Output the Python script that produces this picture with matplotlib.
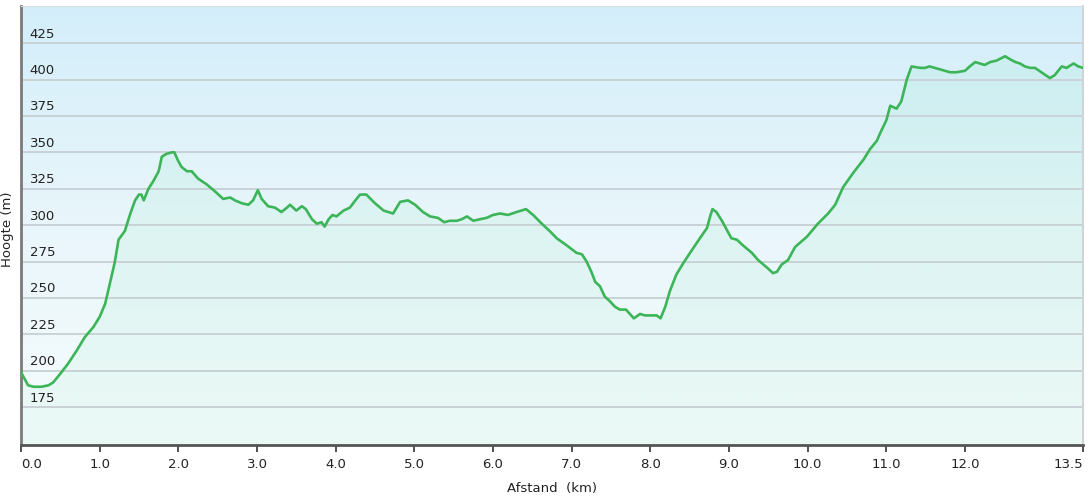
import numpy as np
import matplotlib
matplotlib.use("Agg")
import matplotlib.pyplot as plt
from matplotlib.colors import LinearSegmentedColormap

# distance (km) and elevation (m)
afstand = [0.00, 0.09, 0.16, 0.26, 0.35, 0.41, 0.50, 0.60, 0.71, 0.81, 0.92,
           1.00, 1.07, 1.13, 1.19, 1.24, 1.32, 1.39, 1.45, 1.50, 1.53, 1.56,
           1.62, 1.68, 1.75, 1.79, 1.85, 1.92, 1.95, 1.99, 2.04, 2.11, 2.17,
           2.25, 2.36, 2.47, 2.57, 2.66, 2.72, 2.81, 2.89, 2.95, 3.01, 3.06,
           3.14, 3.23, 3.31, 3.38, 3.42, 3.50, 3.57, 3.62, 3.70, 3.76, 3.82,
           3.86, 3.91, 3.96, 4.01, 4.10, 4.18, 4.25, 4.31, 4.39, 4.50, 4.61,
           4.67, 4.73, 4.82, 4.92, 5.01, 5.11, 5.20, 5.30, 5.38, 5.45, 5.54,
           5.60, 5.67, 5.75, 5.83, 5.92, 6.00, 6.09, 6.19, 6.30, 6.42, 6.51,
           6.62, 6.72, 6.81, 6.94, 7.06, 7.13, 7.19, 7.25, 7.30, 7.36, 7.42,
           7.48, 7.55, 7.61, 7.69, 7.74, 7.79, 7.87, 7.93, 8.02, 8.08, 8.13,
           8.19, 8.25, 8.33, 8.42, 8.53, 8.63, 8.72, 8.76, 8.79, 8.84, 8.91,
           8.99, 9.03, 9.10, 9.18, 9.29, 9.37, 9.48, 9.56, 9.61, 9.67, 9.75,
           9.84, 9.99, 10.13, 10.26, 10.35, 10.45, 10.58, 10.71, 10.79, 10.88,
           10.92, 11.00, 11.05, 11.13, 11.19, 11.26, 11.32, 11.43, 11.49,
           11.55, 11.68, 11.81, 11.89, 12.00, 12.06, 12.13, 12.19, 12.25,
           12.32, 12.40, 12.51, 12.57, 12.64, 12.70, 12.76, 12.83, 12.89,
           12.97, 13.08, 13.14, 13.23, 13.29, 13.38, 13.44, 13.50]
hoogte = [199, 190, 189, 189, 190, 192, 198, 205, 214, 223, 230,
          237, 246, 260, 274, 290, 296, 308, 317, 321, 321, 317,
          325, 330, 337, 347, 349, 350, 350, 345, 340, 337, 337,
          332, 328, 323, 318, 319, 317, 315, 314, 317, 324, 318,
          313, 312, 309, 312, 314, 310, 313, 311, 304, 301, 302,
          299, 304, 307, 306, 310, 312, 317, 321, 321, 315, 310,
          309, 308, 316, 317, 314, 309, 306, 305, 302, 303, 303,
          304, 306, 303, 304, 305, 307, 308, 307, 309, 311, 307,
          301, 296, 291, 286, 281, 280, 275, 268, 261, 258, 251,
          248, 244, 242, 242, 239, 236, 239, 238, 238, 238, 236,
          244, 255, 266, 274, 283, 291, 298, 306, 311, 309, 303,
          295, 291, 290, 286, 281, 276, 271, 267, 268, 273, 276,
          285, 292, 301, 308, 314, 326, 336, 345, 352, 358,
          363, 372, 382, 380, 385, 400, 409, 408, 408,
          409, 407, 405, 405, 406, 409, 412, 411, 410,
          412, 413, 416, 414, 412, 411, 409, 408, 408,
          405, 401, 403, 409, 408, 411, 409, 408]

x_ticks = [0, 1, 2, 3, 4, 5, 6, 7, 8, 9, 10, 11, 12, 13.5]
x_labels = ["0.0", "1.0", "2.0", "3.0", "4.0", "5.0", "6.0", "7.0", "8.0",
            "9.0", "10.0", "11.0", "12.0", "13.5"]
y_grid = [175, 200, 225, 250, 275, 300, 325, 350, 375, 400, 425]

fig = plt.figure(figsize=(10.89, 4.98), dpi=100)
ax = fig.add_axes([21 / 1089, 53 / 498, 1062 / 1089, 439 / 498])
xmin, xmax, ymin, ymax = 0, 13.5, 149, 450.5
ax.set_xlim(xmin, xmax)
ax.set_ylim(ymin, ymax)

# background gradient: light blue at top to almost white at the bottom
bg = LinearSegmentedColormap.from_list("bg", ["#f6fcfd", "#e9f6fb", "#d3eefa"])
grad = np.linspace(0, 1, 256).reshape(-1, 1)
ax.imshow(grad, cmap=bg, aspect="auto", origin="lower",
          extent=[xmin, xmax, ymin, ymax], zorder=0)

# pale green gradient under the curve
fillmap = LinearSegmentedColormap.from_list(
    "fill", [(0.40, 0.88, 0.60, 0.07), (0.40, 0.88, 0.68, 0.11)])
poly = ax.fill_between(afstand, hoogte, ymin, facecolor="none", edgecolor="none")
img = ax.imshow(grad, cmap=fillmap, aspect="auto", origin="lower",
                extent=[xmin, xmax, ymin, ymax], zorder=1)
img.set_clip_path(poly.get_paths()[0], transform=ax.transData)

# grid lines with the labels sitting above them
for v in y_grid:
    ax.axhline(v, color="#c9d2d6", lw=1.4, zorder=2)
    ax.text(0.11, v + 6.2, str(v), fontsize=9.5, color="#222222",
            ha="left", va="center", zorder=3)

ax.plot(afstand, hoogte, color="#3cb558", lw=1.9, zorder=4,
        solid_joinstyle="round")

ax.set_yticks([])
ax.set_xticks(x_ticks)
ax.set_xticklabels(x_labels, fontsize=9.5, color="#222222")
labels = ax.get_xticklabels()
labels[0].set_ha("left")
labels[-1].set_ha("right")
ax.tick_params(axis="x", direction="out", length=5, width=1.2,
               color="#333333", pad=4)

ax.spines["left"].set_color("#7a7a7a")
ax.spines["left"].set_linewidth(2)
ax.spines["bottom"].set_color("#555555")
ax.spines["bottom"].set_linewidth(2)
ax.spines["top"].set_color("#d8dcde")
ax.spines["right"].set_color("#d0d4d6")
ax.spines["right"].set_linewidth(1.5)

ax.set_xlabel("Afstand  (km)", fontsize=9.5, color="#222222", labelpad=8)
fig.text(8 / 1089, 0.54, "Hoogte (m)", rotation=90, fontsize=9.5,
         color="#222222", ha="center", va="center")

fig.savefig("out.png", dpi=100)
